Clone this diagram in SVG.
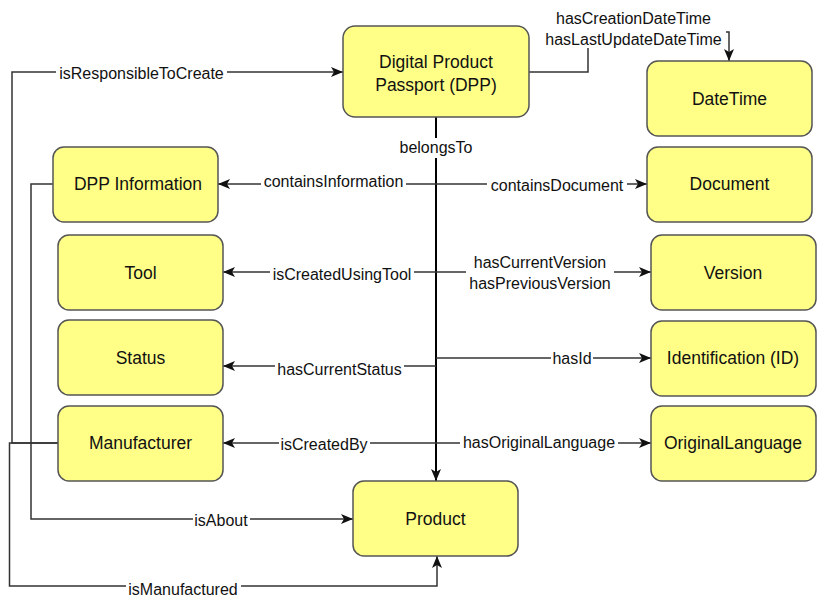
<svg xmlns="http://www.w3.org/2000/svg" width="825" height="608" viewBox="0 0 825 608">
<style>
.node rect{fill:#FFFF88;stroke:#555;stroke-width:1.5}
.node text{font-family:"Liberation Sans",Arial,sans-serif;font-size:17.5px;fill:#111;text-anchor:middle}
.edge{fill:none;stroke:#333;stroke-width:1.5;marker-end:url(#arr)}
.lbl rect{fill:#fff}
.lbl text{font-family:"Liberation Sans",Arial,sans-serif;font-size:16px;fill:#111;text-anchor:middle}
</style>
<defs>
<marker id="arr" viewBox="0 0 12 10" refX="12" refY="5" markerWidth="12" markerHeight="10" markerUnits="userSpaceOnUse" orient="auto">
<path d="M0,0 L12,5 L0,10 L3,5 Z" fill="#111"/>
</marker>
</defs>
<rect width="825" height="608" fill="#fff"/>
<g id="connectors">
<path class="edge" d="M436,117 V481" style="stroke:#000;stroke-width:2"/>
<path class="edge" d="M436,184 H218"/>
<path class="edge" d="M436,184 H647"/>
<path class="edge" d="M436,272 H223"/>
<path class="edge" d="M436,272 H651"/>
<path class="edge" d="M436,366 H223"/>
<path class="edge" d="M436,358 H651"/>
<path class="edge" d="M436,443 H223"/>
<path class="edge" d="M436,443 H651"/>
<path class="edge" d="M529,72 H588 V32 H729 V61"/>
<path class="edge" d="M58,443 H12 V72 H343"/>
<path class="edge" d="M58,443 H9.5 V586 H437 V556"/>
<path class="edge" d="M53,184 H31 V519 H353"/>
<g class="lbl">
<rect x="56" y="64" width="171" height="18"/><text x="141.5" y="79">isResponsibleToCreate</text>
<rect x="542" y="8" width="184" height="40"/><text x="633.5" y="24">hasCreationDateTime</text><text x="633.5" y="45">hasLastUpdateDateTime</text>
<rect x="392" y="138" width="88" height="20"/><text x="436" y="153">belongsTo</text>
<rect x="261" y="173" width="145" height="18"/><text x="333.5" y="187">containsInformation</text>
<rect x="487" y="177" width="140" height="18"/><text x="557" y="191">containsDocument</text>
<rect x="270" y="265" width="144" height="18"/><text x="342" y="280">isCreatedUsingTool</text>
<rect x="466" y="252" width="148" height="40"/><text x="540" y="268">hasCurrentVersion</text><text x="540" y="289">hasPreviousVersion</text>
<rect x="275" y="360" width="129" height="18"/><text x="339.5" y="375">hasCurrentStatus</text>
<rect x="551" y="349" width="42" height="18"/><text x="572" y="364">hasId</text>
<rect x="279" y="434" width="91" height="20"/><text x="324" y="450">isCreatedBy</text>
<rect x="460" y="433" width="158" height="19"/><text x="539" y="448">hasOriginalLanguage</text>
<rect x="193" y="510" width="57" height="19"/><text x="221" y="526">isAbout</text>
<rect x="126" y="579" width="115" height="20"/><text x="183" y="595">isManufactured</text>
</g>
</g>
<g id="dpp" class="node"><rect x="343" y="26" width="186" height="91" rx="12"/><text x="436" y="68">Digital Product</text><text x="436" y="91">Passport (DPP)</text></g>
<g id="datetime" class="node"><rect x="647" y="61" width="165" height="75" rx="11"/><text x="729.5" y="105">DateTime</text></g>
<g id="dppinfo" class="node"><rect x="53" y="147" width="165" height="75" rx="11"/><text x="138" y="190">DPP Information</text></g>
<g id="document" class="node"><rect x="647" y="147" width="165" height="75" rx="11"/><text x="729.5" y="190">Document</text></g>
<g id="tool" class="node"><rect x="58" y="235" width="165" height="75" rx="11"/><text x="140.5" y="279">Tool</text></g>
<g id="version" class="node"><rect x="651" y="235" width="165" height="75" rx="11"/><text x="733" y="279">Version</text></g>
<g id="status" class="node"><rect x="58" y="320" width="165" height="75" rx="11"/><text x="140.5" y="364">Status</text></g>
<g id="identification" class="node"><rect x="651" y="321" width="165" height="75" rx="11"/><text x="733" y="364">Identification (ID)</text></g>
<g id="manufacturer" class="node"><rect x="58" y="406" width="165" height="75" rx="11"/><text x="140.5" y="449">Manufacturer</text></g>
<g id="originallanguage" class="node"><rect x="651" y="406" width="165" height="75" rx="11"/><text x="733" y="449">OriginalLanguage</text></g>
<g id="product" class="node"><rect x="353" y="481" width="165" height="75" rx="11"/><text x="435.5" y="525">Product</text></g>
</svg>
